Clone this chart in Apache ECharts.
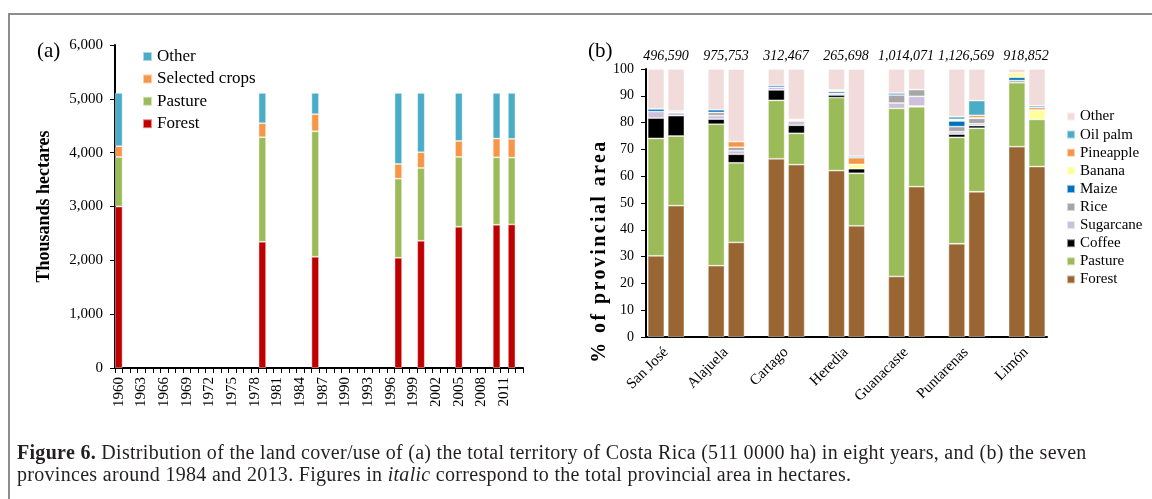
<!DOCTYPE html>
<html><head><meta charset="utf-8">
<script src="https://cdn.jsdelivr.net/npm/echarts@6/dist/echarts.min.js"></script>
<style>
html,body{margin:0;padding:0;background:#fff;}
#wrap{position:relative;width:1152px;height:499px;overflow:hidden;background:#fff;}
#chart{position:absolute;left:0;top:0;width:1152px;height:499px;}
#frame{position:absolute;left:8px;top:13px;width:1200px;height:600px;border-left:2px solid #8d8d8d;border-top:2px solid #8d8d8d;pointer-events:none;}
#caption{position:absolute;left:17px;top:441px;font-family:'Liberation Serif',serif;font-size:20px;line-height:22px;color:#231f20;white-space:nowrap;letter-spacing:0.3px;}
#ynameB{position:absolute;left:598px;top:251px;transform:translate(-50%,-50%) rotate(-90deg);font-family:'Liberation Serif',serif;font-weight:bold;font-size:20px;letter-spacing:2.4px;white-space:nowrap;color:#000;}
</style>
</head><body>
<div id="wrap">
<div id="chart"></div>
<div id="frame"></div>
<div id="ynameB">% of provincial area</div>
<div id="caption"><b>Figure 6.</b> Distribution of the land cover/use of (a) the total territory of Costa Rica (511 0000 ha) in eight years, and (b) the seven<br>provinces around 1984 and 2013. Figures in <i>italic</i> correspond to the total provincial area in hectares.</div>
</div>
<script>
// ---------- Panel (a) data (thousand hectares) ----------
const surveyYears = ['1960','1979','1986','1997','2000','2005','2010','2012'];
const aForest  = [3000, 2345, 2066, 2047, 2363, 2624, 2661, 2667];
const aPasture = [920, 1942, 2332, 1470, 1353, 1297, 1253, 1241];
const aCrops   = [200, 260, 317, 273, 292, 297, 348, 348];
const aOther   = [990, 563, 395, 1320, 1102, 892, 848, 854];
const yearStart = 1960, yearEnd = 2013;

// ---------- Panel (b) data (% of provincial area), order per province: 1984, 2013 ----------
const provinces = ['San José','Alajuela','Cartago','Heredia','Guanacaste','Puntarenas','Limón'];
const provTotals = ['496,590','975,753','312,467','265,698','1,014,071','1,126,569','918,852'];
const bForest    = [30.3,49.0, 26.6,35.3, 66.5,64.3, 62.1,41.5, 22.6,56.1, 34.8,54.2, 71.0,63.6];
const bPasture   = [43.8,26.0, 52.8,29.7, 21.8,11.7, 27.2,19.6, 62.7,29.8, 39.7,23.7, 23.9,17.6];
const bCoffee    = [7.6,7.6, 1.9,3.2, 3.9,3.0, 1.0,1.7, 0,0.3, 1.2,1.0, 0,0];
const bSugarcane = [2.4,1.1, 1.3,1.3, 1.0,1.6, 0.6,0, 2.0,3.6, 0.9,0.7, 0,0];
const bRice      = [0,0, 1.2,1.3, 0,0, 0,0, 3.0,2.5, 1.9,2.0, 0.8,0];
const bMaize     = [1.0,0.2, 1.0,0, 0.7,0, 0.7,0, 0.7,0, 2.1,0, 1.2,0];
const bBanana    = [0,0, 0,0, 0,0.6, 0.6,1.6, 0,0, 0.6,0.2, 1.7,3.5];
const bPineapple = [0,0, 0,2.1, 0,0, 0,2.5, 0,0, 0,0.9, 0,0.9];
const bOilPalm   = [0,0.4, 0,0, 0,0, 0,0.6, 0,0, 1.0,5.5, 0,0.7];
const bOther     = [14.9,15.7, 15.2,27.1, 6.1,18.8, 7.8,32.5, 9.0,7.7, 17.8,11.8, 1.4,13.7];

// ---------- builders ----------
const years = [];
for (let y = yearStart; y <= yearEnd; y++) years.push(String(y));
function yearSeries(vals){
  return years.map(y => { const i = surveyYears.indexOf(y); return i >= 0 ? vals[i] : '-'; });
}
const slots = [];
provinces.forEach((p, i) => {
  slots.push(p + ' 1984', p + ' 2013');
  if (i < provinces.length - 1) slots.push('gap' + i);
});
function slotSeries(vals){
  const out = [];
  provinces.forEach((p, i) => {
    out.push(vals[2*i] === 0 ? '-' : vals[2*i]);
    out.push(vals[2*i+1] === 0 ? '-' : vals[2*i+1]);
    if (i < provinces.length - 1) out.push('-');
  });
  return out;
}

const FONT = 'Liberation Serif';
const edge = { borderColor: 'rgba(255,255,255,0.55)', borderWidth: 0.8 };

function aBar(name, vals, color){
  return { name: name, type: 'bar', stack: 'a', xAxisIndex: 0, yAxisIndex: 0,
    barCategoryGap: '0%', data: yearSeries(vals),
    itemStyle: Object.assign({ color: color }, edge), emphasis: { disabled: true } };
}
function bBar(name, vals, color){
  return { name: name + ' ', type: 'bar', stack: 'b', xAxisIndex: 1, yAxisIndex: 1,
    barCategoryGap: '17%', data: slotSeries(vals),
    itemStyle: Object.assign({ color: color }, edge), emphasis: { disabled: true } };
}

const chart = echarts.init(document.getElementById('chart'), null, { renderer: 'canvas' });
const option = {
  animation: false,
  backgroundColor: 'transparent',
  textStyle: { fontFamily: FONT, color: '#000' },
  grid: [
    { left: 115, top: 45, width: 408, height: 323, containLabel: false },
    { left: 646, top: 69, width: 401, height: 268, containLabel: false },
    { left: 636, top: 69, width: 420, height: 268, containLabel: false }
  ],
  legend: [
    { data: ['Other','Selected crops','Pasture','Forest'], orient: 'vertical', left: 137, top: 43,
      itemWidth: 9, itemHeight: 9, itemGap: 5.4, icon: 'rect',
      textStyle: { fontFamily: FONT, fontSize: 17, color: '#000' }, selectedMode: false },
    { data: ['Other ','Oil palm ','Pineapple ','Banana ','Maize ','Rice ','Sugarcane ','Coffee ','Pasture ','Forest '],
      orient: 'vertical', left: 1061, top: 104, itemWidth: 8, itemHeight: 8, itemGap: 3.1, icon: 'rect',
      formatter: n => n.trim(),
      textStyle: { fontFamily: FONT, fontSize: 15, color: '#000' }, selectedMode: false }
  ],
  xAxis: [
    { type: 'category', gridIndex: 0, data: years,
      axisLine: { lineStyle: { color: '#000', width: 2 } },
      axisTick: { show: true, interval: 0, length: 5, lineStyle: { color: '#000', width: 1 } },
      axisLabel: { rotate: 90, interval: 2, fontSize: 15, margin: 9, color: '#000', fontFamily: FONT } },
    { type: 'category', gridIndex: 1, data: slots,
      axisLine: { lineStyle: { color: '#000', width: 2 } },
      axisTick: { show: false }, axisLabel: { show: false } },
    { type: 'category', gridIndex: 2, data: provinces, position: 'bottom',
      axisLine: { show: false }, axisTick: { show: false },
      axisLabel: { rotate: 45, interval: 0, fontSize: 15, margin: 13, color: '#000', fontFamily: FONT } },
    { type: 'category', gridIndex: 2, data: provTotals, position: 'top',
      axisLine: { show: false }, axisTick: { show: false },
      axisLabel: { interval: 0, fontSize: 14, fontStyle: 'italic', margin: 6, color: '#000', fontFamily: FONT } }
  ],
  yAxis: [
    { type: 'value', gridIndex: 0, min: 0, max: 6000, interval: 1000,
      name: 'Thousands hectares', nameLocation: 'middle', nameGap: 62,
      nameTextStyle: { fontFamily: FONT, fontSize: 18, fontWeight: 'bold', color: '#000' },
      axisLine: { show: true, lineStyle: { color: '#000', width: 2 } },
      axisTick: { show: true, length: 5, lineStyle: { color: '#000' } },
      splitLine: { show: false },
      axisLabel: { fontSize: 15, margin: 12, color: '#000', fontFamily: FONT,
        formatter: v => v.toLocaleString('en-US') } },
    { type: 'value', gridIndex: 1, min: 0, max: 100, interval: 10,
      axisLine: { show: true, lineStyle: { color: '#000', width: 2 } },
      axisTick: { show: true, length: 5, lineStyle: { color: '#000' } },
      splitLine: { show: false },
      axisLabel: { fontSize: 14, margin: 12, color: '#000', fontFamily: FONT } },
    { type: 'value', gridIndex: 2, show: false, min: 0, max: 100 }
  ],
  graphic: [
    { type: 'text', left: 37, top: 41, style: { text: '(a)', fontFamily: FONT, fontSize: 21, fill: '#000' } },
    { type: 'text', left: 588, top: 41, style: { text: '(b)', fontFamily: FONT, fontSize: 21, fill: '#000' } }
  ],
  series: [
    aBar('Forest', aForest, '#C00000'),
    aBar('Pasture', aPasture, '#9BBB59'),
    aBar('Selected crops', aCrops, '#F79646'),
    aBar('Other', aOther, '#4BACC6'),
    bBar('Forest', bForest, '#996633'),
    bBar('Pasture', bPasture, '#9BBB59'),
    bBar('Coffee', bCoffee, '#000000'),
    bBar('Sugarcane', bSugarcane, '#CCC0DA'),
    bBar('Rice', bRice, '#A6A6A6'),
    bBar('Maize', bMaize, '#0070C0'),
    bBar('Banana', bBanana, '#FFFF99'),
    bBar('Pineapple', bPineapple, '#F79646'),
    bBar('Oil palm', bOilPalm, '#4BACC6'),
    bBar('Other', bOther, '#F2DCDB')
  ]
};
chart.setOption(option);
</script>
</body></html>
